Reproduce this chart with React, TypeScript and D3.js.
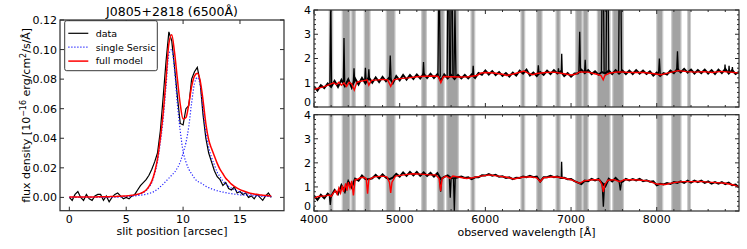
import React from "react";
import * as d3 from "d3";

const W = 747;
const H = 249;
const FONT = "DejaVu Sans, Liberation Sans, sans-serif";

// ---------- left panel: slit profile ----------
const slitPositions = d3.range(0, 17.76, 0.25);
const slitData = [
  0.000, -0.002, 0.002, 0.004, 0.000, -0.002, 0.002, -0.001,
  -0.002, 0.001, 0.002, 0.002, -0.002, 0.001, -0.003, 0.000,
  0.002, 0.003, 0.001, -0.001, 0.000, -0.001, 0.001, 0.002,
  0.005, 0.008, 0.010, 0.012, 0.015, 0.019, 0.024, 0.030,
  0.045, 0.068, 0.092, 0.112, 0.106, 0.088, 0.068, 0.050,
  0.049, 0.060, 0.062, 0.080, 0.085, 0.088, 0.078, 0.056,
  0.040, 0.030, 0.024, 0.018, 0.014, 0.012, 0.008, 0.010,
  0.006, 0.005, 0.007, 0.003, 0.004, 0.002, 0.003, 0.000,
  0.001, -0.001, 0.002, 0.000, -0.002, 0.001, 0.003, 0.000,
];
const slitModel = [
  0.0002, 0.0002, 0.0002, 0.0002, 0.0002, 0.0003, 0.0003, 0.0003,
  0.0003, 0.0003, 0.0004, 0.0004, 0.0004, 0.0005, 0.0005, 0.0006,
  0.0006, 0.0007, 0.0008, 0.0009, 0.0010, 0.0012, 0.0014, 0.0017,
  0.0021, 0.0027, 0.0036, 0.0050, 0.0075, 0.011, 0.017, 0.026,
  0.040, 0.057, 0.080, 0.104, 0.110, 0.098, 0.080, 0.063,
  0.053, 0.054, 0.063, 0.075, 0.082, 0.084, 0.079, 0.066,
  0.050, 0.039, 0.033, 0.028, 0.023, 0.019, 0.016, 0.013,
  0.011, 0.0090, 0.0075, 0.0063, 0.0053, 0.0045, 0.0038, 0.0032,
  0.0027, 0.0023, 0.0020, 0.0017, 0.0015, 0.0013, 0.0011, 0.0010,
];
const sersicA = [
  0.0001, 0.0001, 0.0001, 0.0001, 0.0001, 0.0001, 0.0001, 0.0001,
  0.0001, 0.0001, 0.0001, 0.0002, 0.0002, 0.0002, 0.0003, 0.0003,
  0.0004, 0.0004, 0.0005, 0.0006, 0.0007, 0.0009, 0.0011, 0.0014,
  0.0018, 0.0024, 0.0032, 0.0045, 0.0068, 0.010, 0.016, 0.024,
  0.037, 0.053, 0.075, 0.097, 0.100, 0.086, 0.063, 0.045,
  0.031, 0.024, 0.019, 0.016, 0.013, 0.011, 0.010, 0.0088,
  0.0075, 0.0066, 0.0058, 0.0051, 0.0045, 0.0040, 0.0036, 0.0032,
  0.0028, 0.0025, 0.0022, 0.0020, 0.0017, 0.0015, 0.0014, 0.0012,
  0.0011, 0.0010, 0.0009, 0.0008, 0.0007, 0.0006, 0.0006, 0.0005,
];
const sersicB = [
  0.0001, 0.0001, 0.0001, 0.0001, 0.0001, 0.0001, 0.0001, 0.0001,
  0.0001, 0.0001, 0.0001, 0.0001, 0.0002, 0.0002, 0.0002, 0.0002,
  0.0003, 0.0003, 0.0004, 0.0005, 0.0006, 0.0007, 0.0008, 0.0010,
  0.0012, 0.0015, 0.0018, 0.0022, 0.0027, 0.0033, 0.0042, 0.0055,
  0.0072, 0.0090, 0.011, 0.013, 0.015, 0.017, 0.020, 0.024,
  0.030, 0.037, 0.048, 0.064, 0.077, 0.081, 0.076, 0.060,
  0.044, 0.034, 0.027, 0.022, 0.017, 0.014, 0.011, 0.0092,
  0.0075, 0.0063, 0.0052, 0.0044, 0.0037, 0.0031, 0.0027, 0.0023,
  0.0020, 0.0017, 0.0015, 0.0013, 0.0011, 0.0010, 0.0009, 0.0008,
];
const leftXTicks = [0, 5, 10, 15];
const leftYTicks = [0, 0.02, 0.04, 0.06, 0.08, 0.1, 0.12];

// ---------- right panels: spectra ----------
const specXTicks = [4000, 5000, 6000, 7000, 8000];
const specYTicks = [0, 1, 2, 3, 4];
const maskBands = [
  [4178, 4218], [4330, 4420], [4440, 4482], [4587, 4654], [4844, 4945],
  [5257, 5311], [5440, 5518], [5549, 5684], [5833, 5876], [6416, 6459],
  [6600, 6661], [6825, 6872], [7055, 7128], [7140, 7198], [7307, 7455],
  [7487, 7611], [8000, 8070], [8175, 8283], [8362, 8393],
];
const specGrid = d3.range(4000, 8961, 40);

const topData = [
  0.85, 0.68, 0.90, 0.78, 0.97, 0.83, 1.07, 0.83, 1.12, 0.86,
  1.14, 0.80, 1.17, 0.93, 1.20, 0.98, 1.22, 1.00, 1.22, 1.03,
  1.24, 1.06, 1.22, 0.98, 1.27, 1.10, 1.32, 1.13, 1.32, 1.16,
  1.34, 1.18, 1.37, 1.20, 1.37, 1.20, 1.35, 1.08, 1.34, 1.18,
  1.32, 1.16, 1.32, 1.18, 1.32, 1.18, 1.34, 1.20, 1.40, 1.33,
  1.50, 1.34, 1.48, 1.32, 1.44, 1.28, 1.40, 1.26, 1.42, 1.30,
  1.50, 1.38, 1.54, 1.30, 1.42, 1.28, 1.44, 1.33, 1.50, 1.36,
  1.52, 1.38, 1.47, 1.28, 1.40, 1.25, 1.38, 1.38, 1.54, 1.40,
  1.52, 1.36, 1.47, 1.33, 1.44, 1.38, 1.50, 1.36, 1.52, 1.38,
  1.50, 1.36, 1.50, 1.36, 1.52, 1.38, 1.50, 1.36, 1.47, 1.30,
  1.42, 1.28, 1.40, 1.34, 1.50, 1.40, 1.57, 1.43, 1.57, 1.42,
  1.54, 1.38, 1.52, 1.40, 1.54, 1.38, 1.52, 1.36, 1.54, 1.40,
  1.57, 1.38, 1.52, 1.36, 1.45,
];
// [centre, base, peak, half width]
const topLines = [
  [4195, 0.9, 4.6, 10], [4350, 1.0, 2.85, 8], [4467, 1.0, 1.6, 8],
  [4600, 1.1, 1.62, 8], [4640, 1.1, 1.55, 8], [4890, 1.1, 2.12, 10],
  [5278, 1.25, 1.85, 8], [5460, 1.25, 6.0, 14], [5568, 1.25, 8.0, 14],
  [5607, 1.25, 8.0, 14], [5645, 1.25, 4.0, 12], [5858, 1.25, 1.7, 8],
  [6618, 1.35, 1.72, 8], [6853, 1.4, 1.6, 6], [6891, 1.4, 2.2, 6],
  [7101, 1.4, 3.1, 10], [7165, 1.4, 1.95, 8], [7370, 1.4, 9.0, 16],
  [7424, 1.4, 9.0, 16], [7572, 1.4, 9.0, 18], [8031, 1.35, 2.0, 10],
  [8242, 1.45, 2.3, 10], [8797, 1.45, 1.75, 5], [8844, 1.45, 1.7, 5],
  [8883, 1.45, 1.65, 5],
];
const topModel = [
  [4000, 0.72], [4050, 0.78], [4100, 0.82], [4150, 0.88], [4200, 0.95],
  [4230, 1.0], [4260, 0.92], [4290, 1.02], [4320, 0.9], [4350, 1.0],
  [4380, 0.85], [4410, 1.02], [4440, 0.95], [4470, 0.7], [4500, 1.02],
  [4530, 1.05], [4570, 1.08], [4620, 1.12], [4640, 0.9], [4670, 1.1],
  [4750, 1.12], [4800, 1.14], [4860, 1.12], [4895, 0.85], [4930, 1.12],
  [5000, 1.17], [5100, 1.2], [5200, 1.25], [5300, 1.27], [5400, 1.28],
  [5450, 1.26], [5480, 1.0], [5510, 1.26], [5600, 1.25], [5700, 1.24],
  [5800, 1.25], [5900, 1.3], [5950, 1.4], [6000, 1.42], [6100, 1.4],
  [6200, 1.35], [6250, 1.3], [6350, 1.38], [6450, 1.48], [6500, 1.4],
  [6550, 1.33], [6600, 1.38], [6700, 1.42], [6800, 1.44], [6900, 1.38],
  [6950, 1.35], [7000, 1.32], [7050, 1.35], [7100, 1.45], [7200, 1.44],
  [7300, 1.35], [7350, 1.3], [7375, 1.12], [7395, 1.3], [7450, 1.4],
  [7550, 1.45], [7650, 1.43], [7750, 1.42], [7850, 1.42], [7950, 1.38],
  [8050, 1.33], [8150, 1.42], [8250, 1.5], [8350, 1.46], [8450, 1.44],
  [8550, 1.46], [8650, 1.42], [8750, 1.47], [8850, 1.44], [8960, 1.4],
];

const bottomData = [
  0.64, 0.46, 0.67, 0.53, 0.72, 0.60, 0.87, 0.70, 1.07, 0.80,
  1.24, 0.98, 1.34, 1.26, 1.47, 1.33, 1.32, 1.36, 1.50, 1.36,
  1.52, 1.38, 1.32, 1.38, 1.54, 1.43, 1.60, 1.46, 1.62, 1.48,
  1.62, 1.46, 1.60, 1.46, 1.58, 1.43, 1.57, 1.33, 1.42, 1.48,
  1.37, 1.36, 1.40, 1.43, 1.37, 1.40, 1.32, 1.40, 1.40, 1.48,
  1.47, 1.53, 1.47, 1.50, 1.42, 1.44, 1.37, 1.40, 1.32, 1.38,
  1.37, 1.43, 1.40, 1.46, 1.40, 1.43, 1.22, 1.40, 1.40, 1.46,
  1.40, 1.43, 1.37, 1.38, 1.32, 1.33, 1.24, 1.18, 1.12, 1.26,
  1.24, 1.33, 1.27, 1.33, 1.17, 1.03, 1.34, 1.23, 1.37, 1.23,
  1.22, 1.33, 1.27, 1.33, 1.27, 1.33, 1.24, 1.28, 1.22, 1.23,
  1.07, 1.13, 1.10, 1.16, 1.12, 1.20, 1.17, 1.23, 1.17, 1.26,
  1.18, 1.26, 1.20, 1.26, 1.17, 1.23, 1.14, 1.20, 1.14, 1.20,
  1.12, 1.18, 1.07, 1.10, 0.98,
];
// [centre, base, extreme, half width]
const bottomFeatures = [
  [4190, 0.62, 0.25, 10], [5478, 1.35, 0.8, 12], [5590, 1.35, 0.55, 10],
  [5638, 1.35, 0.0, 10], [6890, 1.38, 2.05, 5], [7377, 1.15, 0.18, 14],
  [7575, 1.25, 0.85, 15],
];
const bottomModel = [
  [4000, 0.55], [4050, 0.6], [4100, 0.62], [4150, 0.64], [4180, 0.66],
  [4200, 0.6], [4220, 0.72], [4250, 0.85], [4270, 0.7], [4290, 0.95],
  [4310, 0.75], [4330, 1.05], [4345, 0.8], [4370, 1.15], [4385, 0.85],
  [4400, 1.2], [4420, 0.95], [4440, 1.25], [4460, 0.65], [4480, 1.3],
  [4510, 1.32], [4540, 1.38], [4580, 1.4], [4610, 1.35], [4625, 0.72],
  [4640, 1.3], [4700, 1.42], [4800, 1.45], [4850, 1.42], [4880, 1.2],
  [4895, 0.75], [4910, 1.2], [4950, 1.45], [5050, 1.5], [5150, 1.55],
  [5250, 1.53], [5350, 1.5], [5420, 1.5], [5460, 1.35], [5478, 0.82],
  [5495, 1.35], [5540, 1.45], [5590, 1.35], [5620, 1.45], [5700, 1.4],
  [5780, 1.35], [5850, 1.38], [5950, 1.45], [6050, 1.5], [6150, 1.45],
  [6250, 1.4], [6330, 1.33], [6430, 1.4], [6530, 1.42], [6600, 1.38],
  [6640, 1.22], [6680, 1.38], [6800, 1.42], [6900, 1.38], [7000, 1.3],
  [7100, 1.15], [7150, 1.25], [7250, 1.3], [7330, 1.3], [7360, 1.1],
  [7377, 0.8], [7395, 1.1], [7430, 1.28], [7500, 1.3], [7570, 1.22],
  [7620, 1.3], [7750, 1.3], [7900, 1.25], [8000, 1.12], [8100, 1.1],
  [8200, 1.18], [8300, 1.22], [8400, 1.22], [8500, 1.23], [8600, 1.2],
  [8700, 1.18], [8800, 1.15], [8900, 1.08], [8960, 1.0],
];

const AX = "#2b2b2b";

function SlitPanel() {
  const L = 60, R = 284, T = 20, B = 210.7;
  const x = d3.scaleLinear().domain([-0.82, 18.87]).range([L, R]);
  const y = d3.scaleLinear().domain([-0.009, 0.12]).range([B, T]);
  const line = d3.line<number>().x((_, i) => x(slitPositions[i])).y((v) => y(v));
  const smooth = d3
    .line<number>()
    .x((_, i) => x(slitPositions[i]))
    .y((v) => y(v))
    .curve(d3.curveMonotoneX);
  const fmt = d3.format(".2f");
  const tl = 4;
  return (
    <g>
      <defs>
        <clipPath id="clipSlit">
          <rect x={L} y={T} width={R - L} height={B - T} />
        </clipPath>
      </defs>
      <g clipPath="url(#clipSlit)">
        <path d={line(slitData) || ""} fill="none" stroke="#000" strokeWidth={1.2} />
        <path d={smooth(sersicA) || ""} fill="none" stroke="#1f1fff" strokeWidth={1.2} strokeDasharray="1.2 1.8" />
        <path d={smooth(sersicB) || ""} fill="none" stroke="#1f1fff" strokeWidth={1.2} strokeDasharray="1.2 1.8" />
        <path d={smooth(slitModel) || ""} fill="none" stroke="#ff0000" strokeWidth={1.5} />
      </g>
      {leftXTicks.map((t) => (
        <g key={"lx" + t}>
          <line x1={x(t)} x2={x(t)} y1={B} y2={B - tl} stroke={AX} />
          <line x1={x(t)} x2={x(t)} y1={T} y2={T + tl} stroke={AX} />
          <text x={x(t)} y={223} textAnchor="middle" fontSize={11} fontFamily={FONT}>
            {t}
          </text>
        </g>
      ))}
      {leftYTicks.map((t) => (
        <g key={"ly" + t}>
          <line x1={L} x2={L + tl} y1={y(t)} y2={y(t)} stroke={AX} />
          <line x1={R} x2={R - tl} y1={y(t)} y2={y(t)} stroke={AX} />
          <text x={57} y={y(t)} dy="0.36em" textAnchor="end" fontSize={11} fontFamily={FONT}>
            {fmt(t)}
          </text>
        </g>
      ))}
      <rect x={L} y={T} width={R - L} height={B - T} fill="none" stroke={AX} strokeWidth={1.2} />
      <text x={(L + R) / 2} y={16} textAnchor="middle" fontSize={12.5} fontFamily={FONT}>
        J0805+2818 (6500Å)
      </text>
      <text x={(L + R) / 2} y={235} textAnchor="middle" fontSize={11} fontFamily={FONT}>
        slit position [arcsec]
      </text>
      <text transform={`translate(30,${(T + B) / 2}) rotate(-90)`} textAnchor="middle" fontSize={11} fontFamily={FONT}>
        flux density [10
        <tspan dy={-4} fontSize={8}>−16</tspan>
        <tspan dy={4}>{" erg/cm"}</tspan>
        <tspan dy={-4} fontSize={8}>2</tspan>
        <tspan dy={4}>/s/Å]</tspan>
      </text>
      {/* legend */}
      <rect x={64.7} y={20.7} width={92.6} height={50} rx={2} fill="#fff" stroke="#222" strokeWidth={0.9} />
      {[
        { label: "data", color: "#000", dash: undefined, w: 1.2 },
        { label: "single Sersic", color: "#1f1fff", dash: "1.2 1.8", w: 1.2 },
        { label: "full model", color: "#ff0000", dash: undefined, w: 1.5 },
      ].map((e, i) => (
        <g key={e.label}>
          <line x1={68.3} x2={88.3} y1={33.3 + i * 13.9} y2={33.3 + i * 13.9} stroke={e.color} strokeWidth={e.w} strokeDasharray={e.dash} />
          <text x={95.7} y={33.3 + i * 13.9} dy="0.35em" fontSize={9.5} fontFamily={FONT}>
            {e.label}
          </text>
        </g>
      ))}
    </g>
  );
}

function SpecPanel(props: {
  id: string;
  top: number;
  bottom: number;
  data: number[];
  extra: number[][];
  model: number[][];
  labels: boolean;
}) {
  const { id, top, bottom, data, extra, model, labels } = props;
  const L = 314, R = 739;
  const x = d3.scaleLinear().domain([4000, 8960]).range([L, R]);
  const y = d3.scaleLinear().domain([0, 4]).range([bottom, top]);
  const line = d3.line<number[]>().x((d) => x(d[0])).y((d) => y(d[1]));
  const dataPts = data.map((v, i) => [specGrid[i], v]);
  const minorX = d3.range(4000, 8961, 200).filter((v) => v % 1000 !== 0);
  const minorY = d3.range(0, 4.001, 0.2).filter((v) => Math.abs(v - Math.round(v)) > 0.01);
  const tl = 4, tm = 2;
  return (
    <g>
      <defs>
        <clipPath id={id}>
          <rect x={L} y={top} width={R - L} height={bottom - top} />
        </clipPath>
      </defs>
      <g clipPath={`url(#${id})`}>
        {maskBands.map((b, i) => (
          <rect
            key={i}
            x={x(b[0])}
            y={top}
            width={x(b[1]) - x(b[0])}
            height={bottom - top}
            fill="#a2a2a2"
            stroke="#cacaca"
            strokeWidth={1.2}
          />
        ))}
        <path d={line(dataPts) || ""} fill="none" stroke="#000" strokeWidth={2} strokeLinejoin="miter" />
        {extra.map((f, i) => (
          <path
            key={i}
            d={line([[f[0] - f[3], f[1]], [f[0], f[2]], [f[0] + f[3], f[1]]]) || ""}
            fill="none"
            stroke="#000"
            strokeWidth={1.3}
          />
        ))}
        <path d={line(model) || ""} fill="none" stroke="#ff0000" strokeWidth={1.4} />
      </g>
      {specXTicks.map((t) => (
        <g key={"sx" + t}>
          <line x1={x(t)} x2={x(t)} y1={bottom} y2={bottom - tl} stroke={AX} />
          <line x1={x(t)} x2={x(t)} y1={top} y2={top + tl} stroke={AX} />
          {labels && (
            <text x={x(t)} y={222.5} textAnchor="middle" fontSize={11} fontFamily={FONT}>
              {t}
            </text>
          )}
        </g>
      ))}
      {minorX.map((t) => (
        <g key={"mx" + t}>
          <line x1={x(t)} x2={x(t)} y1={bottom} y2={bottom - tm} stroke={AX} />
          <line x1={x(t)} x2={x(t)} y1={top} y2={top + tm} stroke={AX} />
        </g>
      ))}
      {specYTicks.map((t) => (
        <g key={"sy" + t}>
          <line x1={L} x2={L + tl} y1={y(t)} y2={y(t)} stroke={AX} />
          <line x1={R} x2={R - tl} y1={y(t)} y2={y(t)} stroke={AX} />
          <text x={311} y={y(t)} dy={t === 0 ? "-1.5" : "0.36em"} textAnchor="end" fontSize={11} fontFamily={FONT}>
            {t}
          </text>
        </g>
      ))}
      {minorY.map((t) => (
        <g key={"my" + t}>
          <line x1={L} x2={L + tm} y1={y(t)} y2={y(t)} stroke={AX} />
          <line x1={R} x2={R - tm} y1={y(t)} y2={y(t)} stroke={AX} />
        </g>
      ))}
      <rect x={L} y={top} width={R - L} height={bottom - top} fill="none" stroke={AX} strokeWidth={1.2} />
    </g>
  );
}

export default function App() {
  return (
    <svg
      width={W}
      height={H}
      viewBox={`0 0 ${W} ${H}`}
      style={{ position: "absolute", left: 0, top: 0, background: "#fff" }}
    >
      <rect width={W} height={H} fill="#fff" />
      <SlitPanel />
      <SpecPanel id="clipTopSpec" top={10} bottom={107} data={topData} extra={topLines} model={topModel} labels={false} />
      <SpecPanel id="clipBotSpec" top={114.7} bottom={211} data={bottomData} extra={bottomFeatures} model={bottomModel} labels={true} />
      <text x={526.5} y={236} textAnchor="middle" fontSize={11} fontFamily={FONT}>
        observed wavelength [Å]
      </text>
    </svg>
  );
}
